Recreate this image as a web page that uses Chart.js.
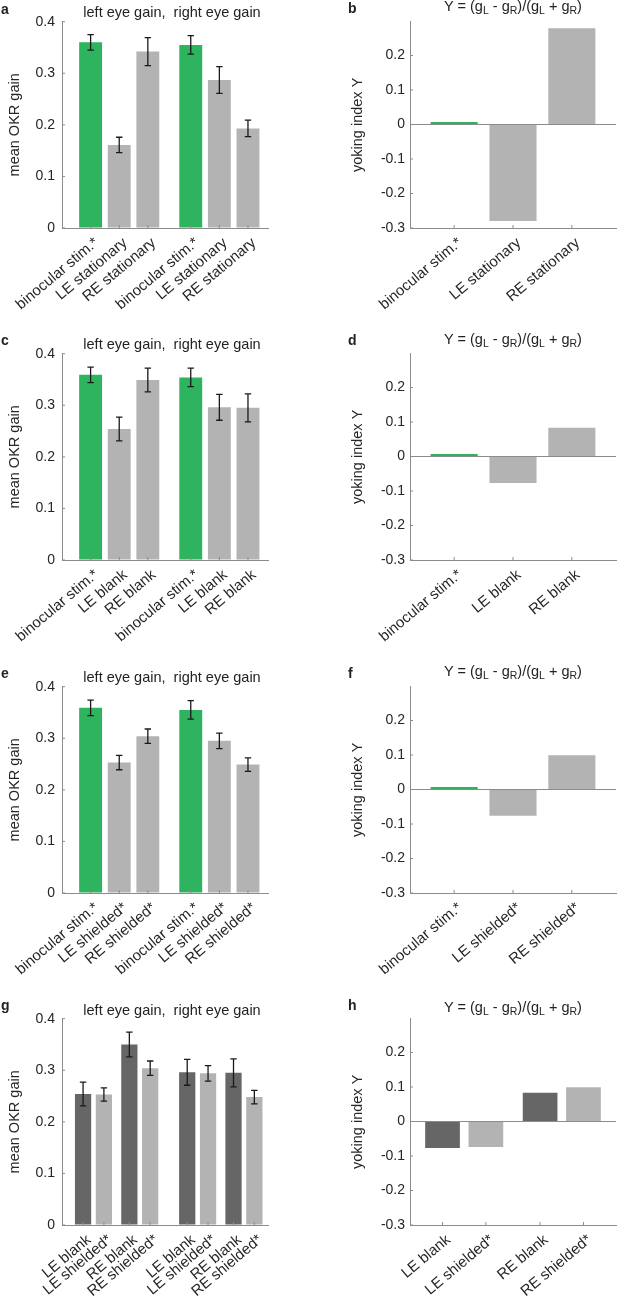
<!DOCTYPE html>
<html>
<head>
<meta charset="utf-8">
<script src="https://cdn.jsdelivr.net/npm/chart.js@4.4.1/dist/chart.umd.min.js"></script>
<style>
  body { margin: 0; background: #fff; font-family: "Liberation Sans", Arial, sans-serif; color: #222; }
  #fig { position: relative; width: 617px; height: 1296px; overflow: hidden; }
  canvas { position: absolute; }
  .ttl { position: absolute; font-size: 14.5px; line-height: 17px; white-space: pre; transform: translateX(-50%); }
  .ttl sub { font-size: 10.5px; vertical-align: -3px; line-height: 0; }
  .lt { position: absolute; font-weight: bold; font-size: 14px; line-height: 16px; }
</style>
</head>
<body>
<div id="fig">
  <canvas id="ca" width="305" height="332" style="left:0;top:0"></canvas>
  <canvas id="cb" width="312" height="332" style="left:305px;top:0"></canvas>
  <canvas id="cc" width="305" height="332" style="left:0;top:332px"></canvas>
  <canvas id="cd" width="312" height="332" style="left:305px;top:332px"></canvas>
  <canvas id="ce" width="305" height="332" style="left:0;top:665px"></canvas>
  <canvas id="cf" width="312" height="332" style="left:305px;top:665px"></canvas>
  <canvas id="cg" width="305" height="299" style="left:0;top:997px"></canvas>
  <canvas id="ch" width="312" height="299" style="left:305px;top:997px"></canvas>

  <div class="lt" style="left:1px;top:1px">a</div>
  <div class="lt" style="left:348px;top:0px">b</div>
  <div class="lt" style="left:1px;top:332px">c</div>
  <div class="lt" style="left:348px;top:332px">d</div>
  <div class="lt" style="left:1px;top:665px">e</div>
  <div class="lt" style="left:348px;top:665px">f</div>
  <div class="lt" style="left:1px;top:997px">g</div>
  <div class="lt" style="left:348px;top:997px">h</div>

  <div class="ttl" style="left:172px;top:4px">left eye gain,  right eye gain</div>
  <div class="ttl" style="left:172px;top:336px">left eye gain,  right eye gain</div>
  <div class="ttl" style="left:172px;top:669px">left eye gain,  right eye gain</div>
  <div class="ttl" style="left:172px;top:1002px">left eye gain,  right eye gain</div>
  <div class="ttl" style="left:513px;top:-2px">Y = (g<sub>L</sub> - g<sub>R</sub>)/(g<sub>L</sub> + g<sub>R</sub>)</div>
  <div class="ttl" style="left:513px;top:331px">Y = (g<sub>L</sub> - g<sub>R</sub>)/(g<sub>L</sub> + g<sub>R</sub>)</div>
  <div class="ttl" style="left:513px;top:663px">Y = (g<sub>L</sub> - g<sub>R</sub>)/(g<sub>L</sub> + g<sub>R</sub>)</div>
  <div class="ttl" style="left:513px;top:999px">Y = (g<sub>L</sub> - g<sub>R</sub>)/(g<sub>L</sub> + g<sub>R</sub>)</div>
</div>

<script>
// tick labels
const gainTicks = [0, 0.1, 0.2, 0.3, 0.4]
const yokeTicks = [-0.3, -0.2, -0.1, 0, 0.1, 0.2]

// a / b : stationary
const catsA = ['binocular stim.*', 'LE stationary', 'RE stationary']
const gainA_left = [0.360, 0.161, 0.342]
const gainA_right = [0.355, 0.287, 0.193]
const semA_left = [0.015, 0.015, 0.027]
const semA_right = [0.018, 0.026, 0.016]
const yokeA = [0.007, -0.280, 0.279]

// c / d : blank
const catsC = ['binocular stim.*', 'LE blank', 'RE blank']
const gainC_left = [0.359, 0.254, 0.349]
const gainC_right = [0.354, 0.296, 0.295]
const semC_left = [0.015, 0.023, 0.023]
const semC_right = [0.018, 0.025, 0.027]
const yokeC = [0.007, -0.077, 0.083]

// e / f : shielded
const catsE = ['binocular stim.*', 'LE shielded*', 'RE shielded*']
const gainE_left = [0.359, 0.253, 0.304]
const gainE_right = [0.355, 0.295, 0.249]
const semE_left = [0.015, 0.014, 0.014]
const semE_right = [0.018, 0.015, 0.013]
const yokeE = [0.007, -0.076, 0.099]

// g / h : blank vs shielded
const catsG = ['LE blank', 'LE shielded*', 'RE blank', 'RE shielded*']
const gainG_left = [0.254, 0.253, 0.350, 0.304]
const gainG_right = [0.296, 0.294, 0.295, 0.248]
const semG_left = [0.023, 0.013, 0.024, 0.014]
const semG_right = [0.025, 0.015, 0.027, 0.013]
const yokeG = [-0.077, -0.074, 0.083, 0.099]

const green = '#2eb35f', grey = '#b3b3b3', dark = '#666666'
const axisCol = '#8c8c8c', txtCol = '#262626'
const FONT = "'Liberation Sans', Arial, sans-serif"
const fnt = { family: FONT, size: 14 }

// error bars (sem) drawn through the y scale
const errBars = {
    id: 'errBars',
    afterDatasetsDraw(chart) {
        const ctx = chart.ctx, ys = chart.scales.y
        chart.data.datasets.forEach((ds, di) => {
            if (!ds.errors) return
            chart.getDatasetMeta(di).data.forEach((bar, i) => {
                const v = ds.data[i].y, e = ds.errors[i]
                const y1 = ys.getPixelForValue(v - e), y2 = ys.getPixelForValue(v + e)
                ctx.save()
                ctx.strokeStyle = '#1a1a1a'
                ctx.lineWidth = 1.3
                ctx.beginPath()
                ctx.moveTo(bar.x, y1); ctx.lineTo(bar.x, y2)
                ctx.moveTo(bar.x - 3.2, y1); ctx.lineTo(bar.x + 3.2, y1)
                ctx.moveTo(bar.x - 3.2, y2); ctx.lineTo(bar.x + 3.2, y2)
                ctx.stroke()
                ctx.restore()
            })
        })
    }
}

// matlab style inward ticks
const inTicks = {
    id: 'inTicks',
    afterDraw(chart) {
        const ctx = chart.ctx, a = chart.chartArea, xs = chart.scales.x, ys = chart.scales.y
        ctx.save()
        ctx.strokeStyle = axisCol
        ctx.lineWidth = 1
        ctx.beginPath()
        ys.ticks.forEach(t => { const p = ys.getPixelForValue(t.value); ctx.moveTo(a.left, p); ctx.lineTo(a.left + 3, p) })
        xs.ticks.forEach(t => { const p = xs.getPixelForValue(t.value); ctx.moveTo(p, a.bottom); ctx.lineTo(p, a.bottom - 3) })
        ctx.stroke()
        ctx.restore()
    }
}

const fmt = v => String(+v.toFixed(2))

function makeChart(id, xs, ys, errs, colors, labels, opt) {
    const canvas = document.getElementById(id)
    const H = canvas.height
    return new Chart(canvas, {
        type: 'bar',
        data: {
            datasets: [{
                data: xs.map((x, i) => ({ x: x, y: ys[i] })),
                errors: errs,
                backgroundColor: colors,
                borderWidth: 0,
                categoryPercentage: 1,
                barPercentage: opt.barPct
            }]
        },
        options: {
            responsive: false,
            animation: false,
            layout: { padding: { top: 21.7, left: 0, right: opt.padRight, bottom: 0 } },
            plugins: { legend: { display: false }, tooltip: { enabled: false } },
            scales: {
                x: {
                    type: 'linear',
                    bounds: 'data',
                    offset: false,
                    min: opt.xMin, max: opt.xMax,
                    grid: { display: false, drawTicks: false, offset: false },
                    border: { color: axisCol, width: 1 },
                    afterBuildTicks: s => { s.ticks = xs.map(v => ({ value: v })) },
                    ticks: {
                        autoSkip: false, minRotation: 40, maxRotation: 40,
                        padding: 6, labelOffset: 6, color: txtCol,
                        font: { family: FONT, size: 15 },
                        callback: (v, i) => labels[i]
                    },
                    afterFit: s => { s.height = H - 228; s.paddingLeft = 0; s.paddingRight = 0 }
                },
                y: {
                    bounds: 'data',
                    min: opt.yMin, max: opt.yMax,
                    grid: {
                        drawTicks: false,
                        color: c => (opt.zeroLine && c.tick && c.tick.value === 0) ? axisCol : 'rgba(0,0,0,0)'
                    },
                    border: { color: axisCol, width: 1 },
                    afterBuildTicks: s => { s.ticks = opt.yTicks.map(v => ({ value: v })) },
                    ticks: { padding: opt.tickPad, color: txtCol, font: fnt, callback: v => fmt(v) },
                    title: {
                        display: true, text: opt.yTitle, color: txtCol,
                        font: { family: FONT, size: 14.5 },
                        padding: { top: opt.titlePad, bottom: 0 }
                    },
                    afterFit: s => { s.width = opt.yWidth; s.paddingTop = 0; s.paddingBottom = 0 }
                }
            }
        },
        plugins: [errBars, inTicks]
    })
}

// left panels: left eye group, gap, right eye group
function gainPanel(id, cats, left, right, semL, semR, colors) {
    const n = cats.length
    const xs = [], ys = [], es = [], cs = [], ls = []
    ;[[left, semL], [right, semR]].forEach(([g, s], eye) => {
        g.forEach((v, j) => {
            xs.push(1 + j + eye * (n + 0.5))
            ys.push(v); es.push(s[j]); cs.push(colors[j]); ls.push(cats[j])
        })
    })
    makeChart(id, xs, ys, es, cs, ls, {
        xMin: 0, xMax: 7.2, barPct: 0.8, padRight: 37,
        yMin: 0, yMax: 0.4, yTicks: gainTicks, tickPad: 7,
        yTitle: 'mean OKR gain', titlePad: 6, yWidth: 62, zeroLine: false
    })
}

function yokePanel(id, cats, vals, colors, xs, xMax) {
    makeChart(id, xs, vals, null, colors, cats, {
        xMin: 0.25, xMax: xMax, barPct: 0.8, padRight: 1,
        yMin: -0.3, yMax: 0.298, yTicks: yokeTicks, tickPad: 5,
        yTitle: 'yoking index Y', titlePad: 44, yWidth: 105, zeroLine: true
    })
}

const triColors = [green, grey, grey]
gainPanel('ca', catsA, gainA_left, gainA_right, semA_left, semA_right, triColors)
gainPanel('cc', catsC, gainC_left, gainC_right, semC_left, semC_right, triColors)
gainPanel('ce', catsE, gainE_left, gainE_right, semE_left, semE_right, triColors)

const idx3 = catsA.map((c, i) => i + 1)
yokePanel('cb', catsA, yokeA, triColors, idx3, 3.75)
yokePanel('cd', catsC, yokeC, triColors, idx3, 3.75)
yokePanel('cf', catsE, yokeE, triColors, idx3, 3.75)

// g: pairs (blank, shielded) for LE and RE, left eye then right eye
const pairColors = [dark, grey, dark, grey]
;(function () {
    const xs = [], ys = [], es = [], cs = [], ls = []
    ;[[gainG_left, semG_left], [gainG_right, semG_right]].forEach(([g, s], eye) => {
        g.forEach((v, j) => {
            const pair = Math.floor(j / 2), k = j % 2
            xs.push(1 + eye * 2.25 + pair + (k - 0.5) * 0.45)
            ys.push(v); es.push(s[j]); cs.push(pairColors[j]); ls.push(catsG[j])
        })
    })
    makeChart('cg', xs, ys, es, cs, ls, {
        xMin: 0.32, xMax: 4.77, barPct: 0.78, padRight: 37,
        yMin: 0, yMax: 0.4, yTicks: gainTicks, tickPad: 7,
        yTitle: 'mean OKR gain', titlePad: 6, yWidth: 62, zeroLine: false
    })
})()

const idxH = catsG.map((c, i) => 1 + i + 0.25 * Math.floor(i / 2))
yokePanel('ch', catsG, yokeG, pairColors, idxH, 5.0)
</script>
</body>
</html>
